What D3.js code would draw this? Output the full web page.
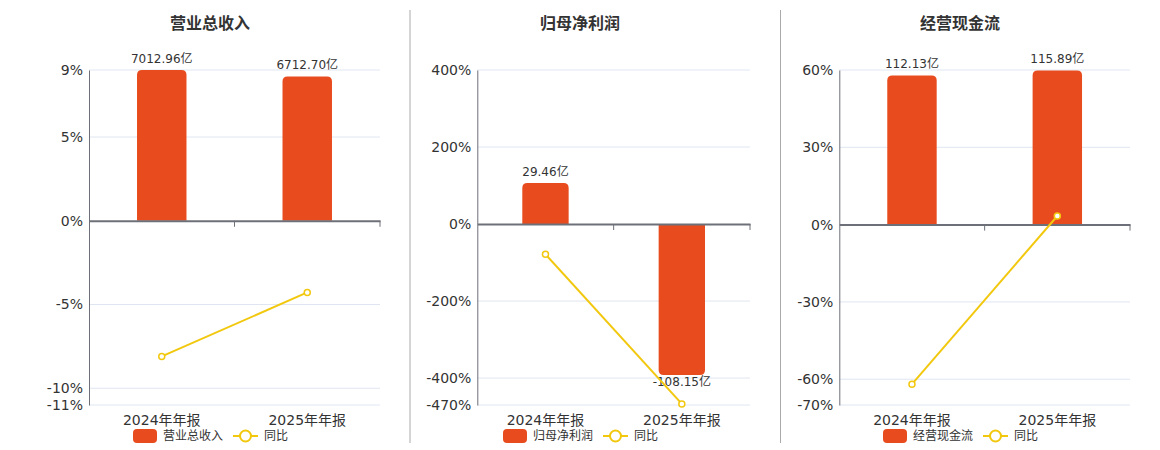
<!DOCTYPE html>
<html>
<head>
<meta charset="utf-8">
<script src="https://cdn.jsdelivr.net/npm/d3@7/dist/d3.min.js"></script>
<style>
  html, body { margin: 0; padding: 0; background: #fff; }
  svg { display: block; font-family: "DejaVu Sans", "Noto Sans CJK SC", sans-serif; }
</style>
</head>
<body>
<svg id="chart" width="1160" height="450"></svg>
<script>
// data
var categories = ["2024年年报", "2025年年报"];
var panelTitles = ["营业总收入", "归母净利润", "经营现金流"];
var revenueValues = [7012.96, 6712.70];
var profitValues = [29.46, -108.15];
var cashValues = [112.13, 115.89];
var revenueYoy = [-8.1, -4.28];
var profitYoy = [-78.5, -467.1];
var cashYoy = [-61.9, 3.35];
var percentTicks = [
  [9, 5, 0, -5, -10, -11],
  [400, 200, 0, -200, -400, -470],
  [60, 30, 0, -30, -60, -70]
];
// hidden bar axis top (same zero as the percent axis)
var barAxisMax = [7013, 110.3, 116.2];

var barColor = "#e84c1e";
var lineColor = "#f2c80f";

var svg = d3.select("#chart");

// panel layout
var panels = [
  { left: 89, right: 380, cx: 210, values: revenueValues, yoy: revenueYoy },
  { left: 477.3, right: 750, cx: 580, values: profitValues, yoy: profitYoy },
  { left: 839.3, right: 1130, cx: 960, values: cashValues, yoy: cashYoy }
];
var plotTop = 70, plotBottom = 405;

// dividers
[410, 780.5].forEach(function (x) {
  svg.append("line")
    .attr("x1", x).attr("x2", x)
    .attr("y1", 10).attr("y2", 443)
    .attr("stroke", "#aaa").attr("stroke-width", 1);
});

function barPath(x, w, y0, y1, r) {
  // rounded on the far end from zero
  if (y1 < y0) {
    r = Math.min(r, (y0 - y1) / 2);
    return "M" + x + "," + y0 +
      "V" + (y1 + r) +
      "Q" + x + "," + y1 + " " + (x + r) + "," + y1 +
      "H" + (x + w - r) +
      "Q" + (x + w) + "," + y1 + " " + (x + w) + "," + (y1 + r) +
      "V" + y0 + "Z";
  }
  r = Math.min(r, (y1 - y0) / 2);
  return "M" + x + "," + y0 +
    "V" + (y1 - r) +
    "Q" + x + "," + y1 + " " + (x + r) + "," + y1 +
    "H" + (x + w - r) +
    "Q" + (x + w) + "," + y1 + " " + (x + w) + "," + (y1 - r) +
    "V" + y0 + "Z";
}

panels.forEach(function (p, i) {
  var g = svg.append("g");
  var ticks = percentTicks[i];
  var pMax = d3.max(ticks), pMin = d3.min(ticks);

  var xScale = d3.scaleBand()
    .domain(categories)
    .range([p.left, p.right]);

  var yScale = d3.scaleLinear()
    .domain([pMin, pMax])
    .range([plotBottom, plotTop]);

  var zeroY = yScale(0);
  var barScale = d3.scaleLinear()
    .domain([0, barAxisMax[i]])
    .range([zeroY, plotTop]);

  // title
  g.append("text")
    .attr("x", p.cx).attr("y", 23)
    .attr("text-anchor", "middle")
    .attr("dominant-baseline", "central")
    .attr("font-size", 16).attr("font-weight", "bold")
    .attr("fill", "#333")
    .text(panelTitles[i]);

  // grid lines
  g.selectAll(".grid")
    .data(ticks.filter(function (t) { return t !== 0; }))
    .enter().append("line")
    .attr("x1", p.left).attr("x2", p.right)
    .attr("y1", function (d) { return yScale(d); })
    .attr("y2", function (d) { return yScale(d); })
    .attr("stroke", "#e0e6f1").attr("stroke-width", 1);

  // y axis
  var yAxis = d3.axisLeft(yScale)
    .tickValues(ticks)
    .tickSize(0)
    .tickPadding(6)
    .tickFormat(function (d) { return d + "%"; });
  var yg = g.append("g")
    .attr("transform", "translate(" + p.left + ",0)")
    .call(yAxis);
  yg.attr("font-family", null);
  yg.select(".domain").attr("stroke", "#6e7079");
  yg.selectAll("text")
    .attr("font-size", 14)
    .attr("fill", "#333");

  // bars
  var bw = xScale.bandwidth() * 0.34;
  g.selectAll(".bar")
    .data(p.values)
    .enter().append("path")
    .attr("d", function (d, j) {
      var x = xScale(categories[j]) + (xScale.bandwidth() - bw) / 2;
      return barPath(x, bw, zeroY, barScale(d), 5);
    })
    .attr("fill", barColor);

  // bar labels
  g.selectAll(".blabel")
    .data(p.values)
    .enter().append("text")
    .attr("x", function (d, j) { return xScale(categories[j]) + xScale.bandwidth() / 2; })
    .attr("y", function (d) { return d >= 0 ? barScale(d) - 11 : barScale(d) + 7; })
    .attr("text-anchor", "middle")
    .attr("dominant-baseline", "central")
    .attr("font-size", 12)
    .attr("fill", "#333")
    .text(function (d) { return d.toFixed(2) + "亿"; });

  // x axis on the zero line
  var xAxis = d3.axisBottom(xScale).tickSize(0).tickFormat("");
  var xg = g.append("g")
    .attr("transform", "translate(0," + zeroY + ")")
    .call(xAxis);
  xg.select(".domain").attr("stroke", "#6e7079").attr("stroke-width", 2);
  var bounds = [p.left + xScale.bandwidth(), p.right];
  bounds.forEach(function (bx) {
    xg.append("line")
      .attr("x1", bx).attr("x2", bx)
      .attr("y1", 0).attr("y2", 6)
      .attr("stroke", "#6e7079");
  });

  // category labels
  g.selectAll(".clabel")
    .data(categories)
    .enter().append("text")
    .attr("x", function (d) { return xScale(d) + xScale.bandwidth() / 2; })
    .attr("y", 420)
    .attr("text-anchor", "middle")
    .attr("dominant-baseline", "central")
    .attr("font-size", 14)
    .attr("fill", "#333")
    .text(function (d) { return d; });

  // yoy line
  var line = d3.line()
    .x(function (d, j) { return xScale(categories[j]) + xScale.bandwidth() / 2; })
    .y(function (d) { return yScale(d); });
  g.append("path")
    .datum(p.yoy)
    .attr("d", line)
    .attr("fill", "none")
    .attr("stroke", lineColor)
    .attr("stroke-width", 2);
  g.selectAll(".pt")
    .data(p.yoy)
    .enter().append("circle")
    .attr("cx", function (d, j) { return xScale(categories[j]) + xScale.bandwidth() / 2; })
    .attr("cy", function (d) { return yScale(d); })
    .attr("r", 3)
    .attr("fill", "#fff")
    .attr("stroke", lineColor)
    .attr("stroke-width", 1.5);

  // legend
  var lg = g.append("g").attr("transform", "translate(" + p.cx + ",436)");
  lg.append("rect")
    .attr("x", -77).attr("y", -7)
    .attr("width", 24).attr("height", 14)
    .attr("rx", 4)
    .attr("fill", barColor);
  lg.append("text")
    .attr("x", -47).attr("y", 0)
    .attr("dominant-baseline", "central")
    .attr("font-size", 12).attr("fill", "#333")
    .text(panelTitles[i]);
  lg.append("line")
    .attr("x1", 23).attr("x2", 48)
    .attr("y1", 0).attr("y2", 0)
    .attr("stroke", lineColor).attr("stroke-width", 2);
  lg.append("circle")
    .attr("cx", 35.5).attr("cy", 0).attr("r", 5.5)
    .attr("fill", "#fff")
    .attr("stroke", lineColor).attr("stroke-width", 2);
  lg.append("text")
    .attr("x", 54).attr("y", 0)
    .attr("dominant-baseline", "central")
    .attr("font-size", 12).attr("fill", "#333")
    .text("同比");
});
</script>
</body>
</html>
